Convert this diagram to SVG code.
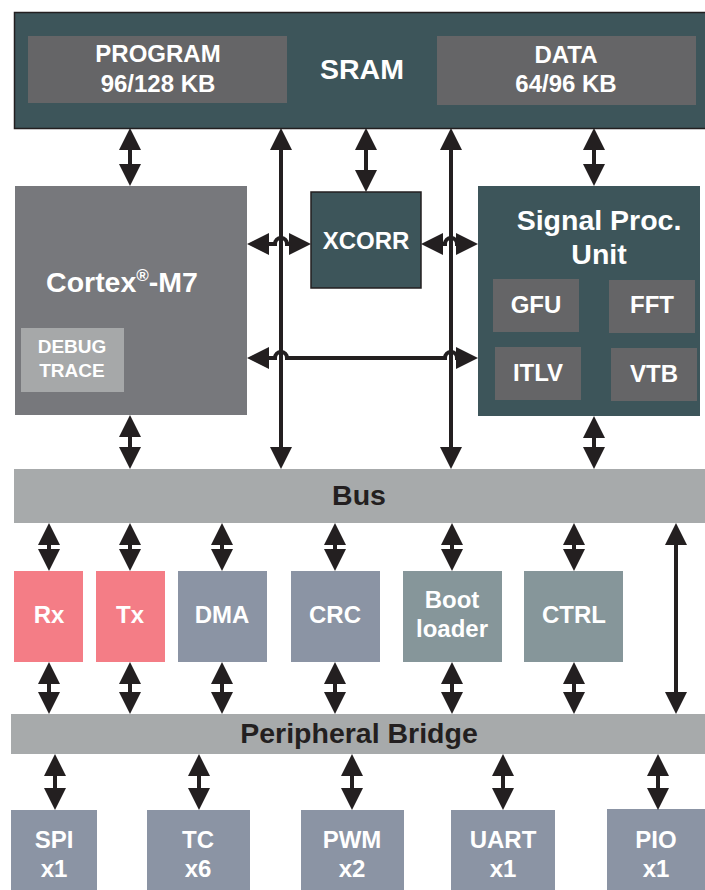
<svg xmlns="http://www.w3.org/2000/svg" width="705" height="890" viewBox="0 0 705 890">
<style>
text{font-family:"Liberation Sans",Arial,sans-serif;font-weight:bold;text-anchor:middle;fill:#ffffff}
.big{font-size:28.5px}
.mid{font-size:24px}
.sm{font-size:19px}
.dark{fill:#231f20}
.teal{fill:#3d555a}
.tealb{fill:#3d555a;stroke:#231f20;stroke-width:1.5}
.mem{fill:#656567}
.bar{fill:#a7aaab}
.pink{fill:#f47d86}
.blue{fill:#8b94a4}
.grn{fill:#86969a}
.cx{fill:#77787c}
.dbg{fill:#a6a8a9}
.conn{fill:none;stroke:#231f20;stroke-width:4;marker-start:url(#ah);marker-end:url(#ah)}
</style>
<defs>
<marker id="ah" viewBox="0 0 22 22" refX="4" refY="11" markerWidth="22" markerHeight="22" markerUnits="userSpaceOnUse" orient="auto-start-reverse">
<path d="M0,0 L22,11 L0,22 Z" fill="#231f20"/>
</marker>
</defs>

<g id="sram">
<rect class="tealb" x="14.5" y="12.5" width="700" height="116"/>
<text class="big" x="362" y="79">SRAM</text>
</g>
<g id="program">
<rect class="mem" x="28" y="36" width="259" height="67"/>
<text class="mid" x="158" y="62">PROGRAM</text>
<text class="mid" x="158" y="92">96/128 KB</text>
</g>
<g id="data">
<rect class="mem" x="437" y="36" width="259" height="69"/>
<text class="mid" x="566" y="63">DATA</text>
<text class="mid" x="566" y="92">64/96 KB</text>
</g>

<g id="cortex">
<rect class="cx" x="15" y="186" width="232" height="229"/>
<text class="big" x="122" y="292">Cortex<tspan font-size="17" dy="-11">®</tspan><tspan dy="11">-M7</tspan></text>
</g>
<g id="debug">
<rect class="dbg" x="21" y="328" width="103" height="64"/>
<text class="sm" x="72" y="353">DEBUG</text>
<text class="sm" x="72" y="377">TRACE</text>
</g>

<g id="xcorr">
<rect class="tealb" x="311" y="192" width="110" height="96"/>
<text class="mid" x="366" y="249">XCORR</text>
</g>

<g id="spu">
<rect class="teal" x="478" y="186" width="222" height="230"/>
<text class="big" x="599" y="230">Signal Proc.</text>
<text class="big" x="599" y="264">Unit</text>
</g>
<g id="gfu">
<rect class="mem" x="493" y="279" width="86" height="53"/>
<text class="mid" x="536" y="313">GFU</text>
</g>
<g id="fft">
<rect class="mem" x="609" y="280" width="86" height="53"/>
<text class="mid" x="652" y="313">FFT</text>
</g>
<g id="itlv">
<rect class="mem" x="495" y="347" width="86" height="53"/>
<text class="mid" x="538" y="381">ITLV</text>
</g>
<g id="vtb">
<rect class="mem" x="611" y="348" width="86" height="53"/>
<text class="mid" x="654" y="382">VTB</text>
</g>

<g id="bus">
<rect class="bar" x="14" y="469" width="691" height="54"/>
<text class="big dark" x="359" y="505">Bus</text>
</g>

<g id="rx">
<rect class="pink" x="14" y="571" width="69" height="91"/>
<text class="mid" x="49" y="623">Rx</text>
</g>
<g id="tx">
<rect class="pink" x="96" y="571" width="69" height="91"/>
<text class="mid" x="130" y="623">Tx</text>
</g>
<g id="dma">
<rect class="blue" x="178" y="571" width="89" height="91"/>
<text class="mid" x="222" y="623">DMA</text>
</g>
<g id="crc">
<rect class="blue" x="291" y="571" width="89" height="91"/>
<text class="mid" x="335" y="623">CRC</text>
</g>
<g id="boot">
<rect class="grn" x="403" y="571" width="99" height="91"/>
<text class="mid" x="452" y="608">Boot</text>
<text class="mid" x="452" y="637">loader</text>
</g>
<g id="ctrl">
<rect class="grn" x="524" y="571" width="99" height="91"/>
<text class="mid" x="574" y="623">CTRL</text>
</g>

<g id="bridge">
<rect class="bar" x="11" y="714" width="694" height="40"/>
<text class="big dark" x="359" y="743">Peripheral Bridge</text>
</g>

<g id="spi">
<rect class="blue" x="11" y="810" width="86" height="80"/>
<text class="mid" x="54" y="848">SPI</text>
<text class="mid" x="54" y="877">x1</text>
</g>
<g id="tc">
<rect class="blue" x="147" y="810" width="103" height="80"/>
<text class="mid" x="198" y="848">TC</text>
<text class="mid" x="198" y="877">x6</text>
</g>
<g id="pwm">
<rect class="blue" x="301" y="810" width="103" height="80"/>
<text class="mid" x="352" y="848">PWM</text>
<text class="mid" x="352" y="877">x2</text>
</g>
<g id="uart">
<rect class="blue" x="451" y="810" width="104" height="80"/>
<text class="mid" x="503" y="848">UART</text>
<text class="mid" x="503" y="877">x1</text>
</g>
<g id="pio">
<rect class="blue" x="607" y="809" width="98" height="81"/>
<text class="mid" x="656" y="848">PIO</text>
<text class="mid" x="656" y="877">x1</text>
</g>

<g id="connectors">
<path class="conn" d="M130,146 V168"/>
<path class="conn" d="M366,146 V174"/>
<path class="conn" d="M594,146 V168"/>
<path class="conn" d="M281,146 V451"/>
<path class="conn" d="M451,146 V451"/>
<path class="conn" d="M265,244 H275 A6,6 0 0 1 287,244 H293"/>
<path class="conn" d="M439,244 H445 A6,6 0 0 1 457,244 H460"/>
<path class="conn" d="M265,358 H275 A6,6 0 0 1 287,358 H445 A6,6 0 0 1 457,358 H460"/>
<path class="conn" d="M130,433 V451"/>
<path class="conn" d="M594,434 V451"/>
<path class="conn" d="M49,541 V553"/>
<path class="conn" d="M130,541 V553"/>
<path class="conn" d="M222,541 V553"/>
<path class="conn" d="M335,541 V553"/>
<path class="conn" d="M452,541 V553"/>
<path class="conn" d="M574,541 V553"/>
<path class="conn" d="M676,541 V696"/>
<path class="conn" d="M49,680 V696"/>
<path class="conn" d="M130,680 V696"/>
<path class="conn" d="M222,680 V696"/>
<path class="conn" d="M335,680 V696"/>
<path class="conn" d="M452,680 V696"/>
<path class="conn" d="M574,680 V696"/>
<path class="conn" d="M55,772 V792"/>
<path class="conn" d="M199,772 V792"/>
<path class="conn" d="M352,772 V792"/>
<path class="conn" d="M503,772 V792"/>
<path class="conn" d="M658,772 V792"/>
</g>
</svg>
